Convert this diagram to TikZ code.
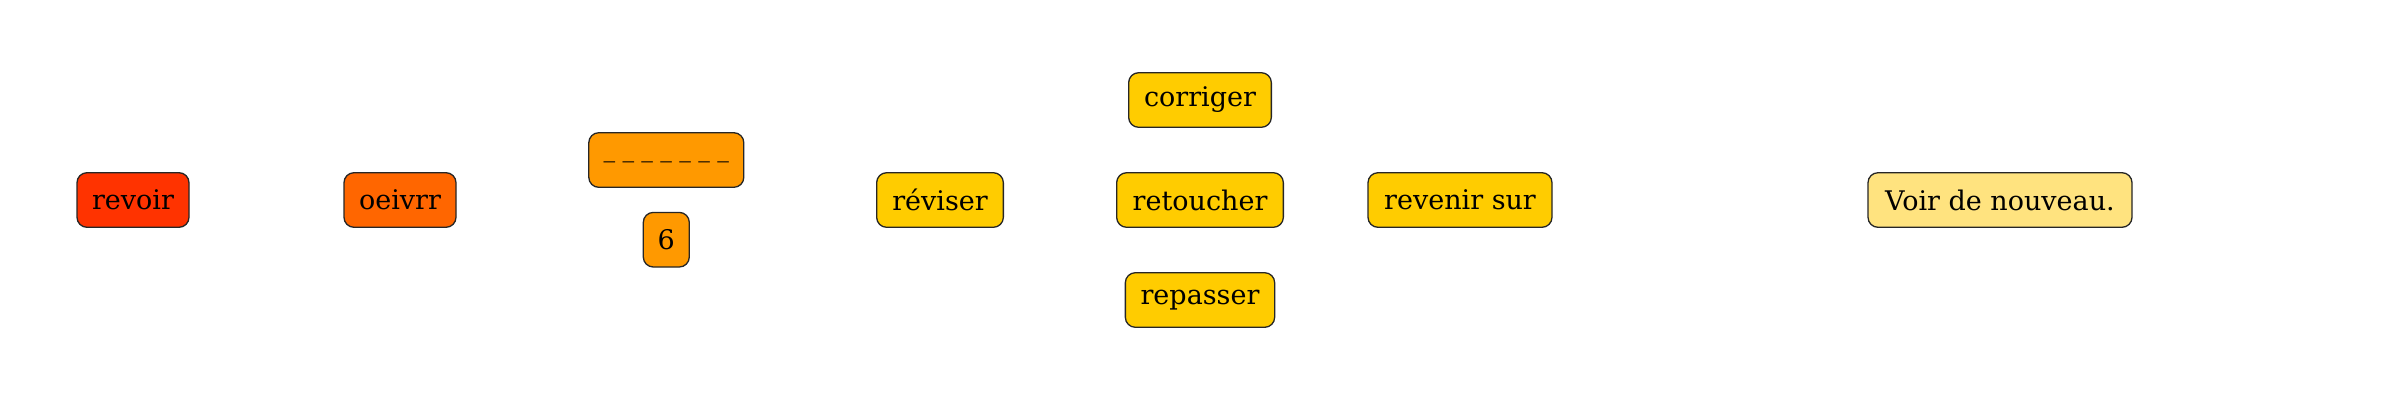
\documentclass[tikz,border=0pt]{standalone}
\usepackage{fontspec}
\setmainfont{DejaVu Serif}
\begin{document}
\begin{tikzpicture}[x=1pt,y=-1pt,
  box/.style={draw=black!85, line width=1.3pt, rounded corners=10pt, minimum height=54.6pt,
    inner xsep=14pt, inner ysep=0pt, outer sep=0pt, font=\fontsize{27}{30}\selectfont, anchor=center}]
\definecolor{c1}{HTML}{FF3300}
\definecolor{c2}{HTML}{FF6600}
\definecolor{c3}{HTML}{FF9900}
\definecolor{c4}{HTML}{FFCC00}
\definecolor{c5}{HTML}{FFE37F}
\useasboundingbox (0,0) rectangle (2400,400);
\node[box, fill=c1, minimum width=112pt] (revoir) at (133,200) {revoir};
\node[box, fill=c2, minimum width=112pt] (oeivrr) at (400,200) {oeivrr};
\node[box, fill=c3, minimum width=155pt] (blank) at (666.3,160) {\scalebox{0.86}[1]{\_ \_ \_ \_ \_ \_ \_}};
\node[box, fill=c3, minimum width=46pt, inner xsep=8pt] (six) at (666.3,239.7) {6};
\node[box, fill=c4, minimum width=126.7pt] (reviser) at (940,200) {réviser};
\node[box, fill=c4, minimum width=142.7pt] (corriger) at (1200,100) {corriger};
\node[box, fill=c4, minimum width=166.7pt] (retoucher) at (1200,200) {retoucher};
\node[box, fill=c4, minimum width=149.3pt] (repasser) at (1200,300) {repasser};
\node[box, fill=c4, minimum width=184pt] (revenir) at (1460,200) {revenir sur};
\node[box, fill=c5, minimum width=264pt] (voir) at (2000,200) {Voir de nouveau.};
\end{tikzpicture}
\end{document}
